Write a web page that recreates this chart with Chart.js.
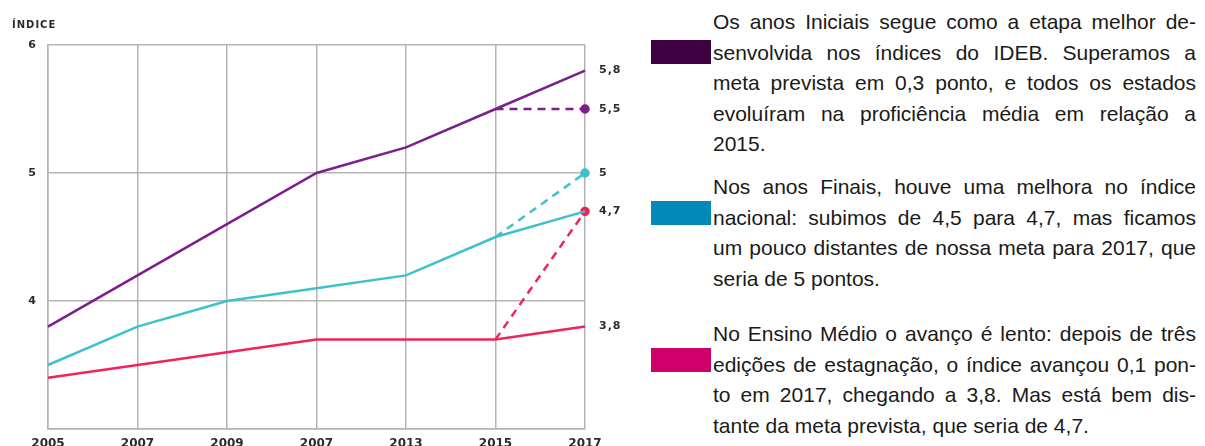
<!DOCTYPE html>
<html>
<head>
<meta charset="utf-8">
<script src="https://cdn.jsdelivr.net/npm/chart.js@4"></script>
<style>
  body { margin: 0; width: 1205px; height: 446px; overflow: hidden; background: #fff; position: relative; }
  #chart-box { position: absolute; left: 0; top: 0; width: 640px; height: 460px; }
  .box { position: absolute; left: 651px; width: 60px; height: 24px; }
  .txt { position: absolute; left: 713px; width: 483px; font-family: "Liberation Sans", Arial, sans-serif; font-size: 21px; line-height: 30.5px; color: #1a1a1a; }
  .txt div { text-align: justify; text-align-last: justify; }
  .txt div.last { text-align-last: left; }
</style>
</head>
<body>
<div id="chart-box"><canvas id="chart"></canvas></div>

<div class="box" style="top:40px; background:#3e0040;"></div>
<div class="txt" style="top:7px;">
  <div>Os anos Iniciais segue como a etapa melhor de-</div>
  <div>senvolvida nos índices do IDEB. Superamos a</div>
  <div>meta prevista em 0,3 ponto, e todos os estados</div>
  <div>evoluíram na proficiência média em relação a</div>
  <div class="last">2015.</div>
</div>

<div class="box" style="top:201px; background:#0089b9;"></div>
<div class="txt" style="top:172px;">
  <div>Nos anos Finais, houve uma melhora no índice</div>
  <div>nacional: subimos de 4,5 para 4,7, mas ficamos</div>
  <div>um pouco distantes de nossa meta para 2017, que</div>
  <div class="last">seria de 5 pontos.</div>
</div>

<div class="box" style="top:348px; background:#d0006a;"></div>
<div class="txt" style="top:319px;">
  <div>No Ensino Médio o avanço é lento: depois de três</div>
  <div>edições de estagnação, o índice avançou 0,1 pon-</div>
  <div>to em 2017, chegando a 3,8. Mas está bem dis-</div>
  <div class="last">tante da meta prevista, que seria de 4,7.</div>
</div>

<script>
// anos (o rótulo 2007 repetido está assim no original)
const years = ["2005", "2007", "2009", "2007", "2013", "2015", "2017"];

// IDEB observado
const iniciais = [3.8, 4.2, 4.6, 5.0, 5.2, 5.5, 5.8];
const finais = [3.5, 3.8, 4.0, 4.1, 4.2, 4.5, 4.7];
const medio = [3.4, 3.5, 3.6, 3.7, 3.7, 3.7, 3.8];

// metas (tracejado 2015 -> 2017)
const metaIniciais = [null, null, null, null, null, 5.5, 5.5];
const metaFinais = [null, null, null, null, null, 4.5, 5.0];
const metaMedio = [null, null, null, null, null, 3.7, 4.7];

// rótulos à direita
const endLabels = ["5,8", "5,5", "5", "4,7", "3,8"];
const endValues = [5.8, 5.5, 5.0, 4.7, 3.8];

const yTicks = [4, 5, 6];

const PURPLE = "#7b1f8c";
const CYAN = "#3ec1cd";
const RED = "#f02458";
const TEXT = "#2b2b2b";
const GRID = "#b4b4b4";
const FONT = "'DejaVu Sans', sans-serif";

function metaDataset(data, color) {
  return {
    data: data,
    borderColor: color,
    backgroundColor: color,
    borderWidth: 2.5,
    borderDash: [8, 6],
    pointRadius: data.map((v, i) => (i === data.length - 1 ? 3.5 : 0)),
    pointHoverRadius: 0,
    spanGaps: false,
  };
}

function lineDataset(data, color) {
  return {
    data: data,
    borderColor: color,
    backgroundColor: color,
    borderWidth: 2.5,
    pointRadius: 0,
    tension: 0,
  };
}

// desenha "ÍNDICE" e os valores finais
const extrasPlugin = {
  id: "extras",
  afterDraw(chart) {
    const ctx = chart.ctx;
    const area = chart.chartArea;
    const y = chart.scales.y;
    ctx.save();
    ctx.fillStyle = TEXT;
    ctx.font = "bold 10px " + FONT;
    ctx.letterSpacing = "1px";
    ctx.textBaseline = "middle";
    ctx.textAlign = "left";
    ctx.fillText("ÍNDICE", 12, 25);
    ctx.font = "bold 11px " + FONT;
    endLabels.forEach((t, i) => {
      ctx.fillText(t, area.right + 14, y.getPixelForValue(endValues[i]));
    });
    ctx.restore();
  },
};

const ctx = document.getElementById("chart").getContext("2d");
new Chart(ctx, {
  type: "line",
  data: {
    labels: years,
    datasets: [
      lineDataset(medio, RED),
      lineDataset(finais, CYAN),
      lineDataset(iniciais, PURPLE),
      metaDataset(metaMedio, RED),
      metaDataset(metaFinais, CYAN),
      metaDataset(metaIniciais, PURPLE),
    ],
  },
  options: {
    responsive: true,
    maintainAspectRatio: false,
    animation: false,
    layout: { padding: { top: 45, right: 55, left: 0, bottom: 0 } },
    plugins: {
      legend: { display: false },
      tooltip: { enabled: false },
    },
    scales: {
      x: {
        offset: false,
        grid: { color: GRID, lineWidth: 1.5, drawTicks: false },
        border: { color: GRID, width: 1.5 },
        ticks: {
          color: TEXT,
          font: { family: FONT, weight: "bold", size: 12 },
          padding: 8,
          maxRotation: 0,
        },
        afterFit(scale) { scale.height = 31; },
      },
      y: {
        min: 3,
        max: 6,
        grid: { color: GRID, lineWidth: 1.5, drawTicks: false },
        border: { color: GRID, width: 1.5 },
        afterBuildTicks(scale) {
          scale.ticks = [3].concat(yTicks).map(v => ({ value: v }));
        },
        ticks: {
          color: TEXT,
          font: { family: FONT, weight: "bold", size: 11 },
          padding: 12,
          callback: v => (yTicks.includes(v) ? String(v) : ""),
        },
        afterFit(scale) { scale.width = 48; },
      },
    },
  },
  plugins: [extrasPlugin],
});
</script>
</body>
</html>
